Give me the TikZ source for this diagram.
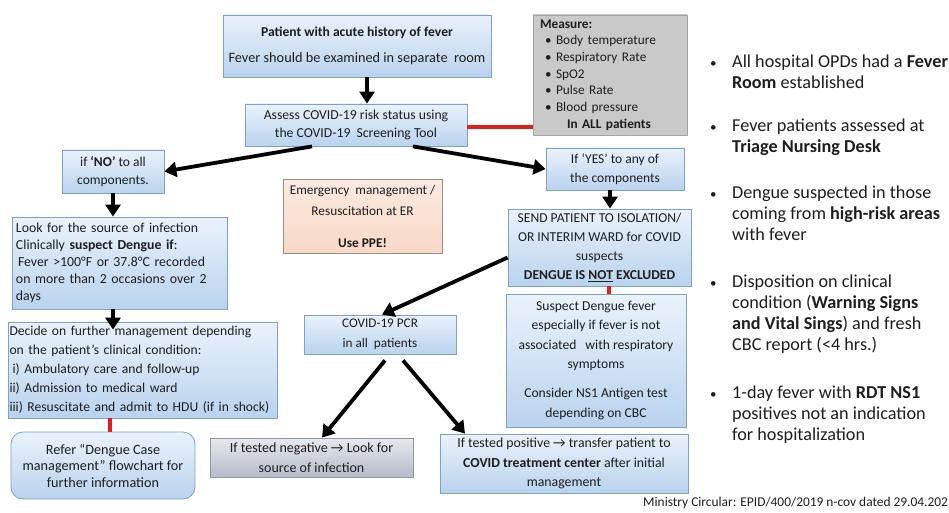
\documentclass[tikz,border=0pt]{standalone}
\usepackage{fontspec}
\setmainfont{Carlito}
\usetikzlibrary{arrows.meta}
\definecolor{bluetop}{HTML}{EAF2FB}
\definecolor{bluebot}{HTML}{B9D3EE}
\definecolor{boxedge}{HTML}{7EA1C6}
\definecolor{graytop}{HTML}{E6E9EE}
\definecolor{graybot}{HTML}{B5BCC8}
\definecolor{grayedge}{HTML}{8E97A4}
\definecolor{measfill}{HTML}{C9C9C9}
\definecolor{measedge}{HTML}{A3A3A3}
\definecolor{peachtop}{HTML}{FCEAE0}
\definecolor{peachbot}{HTML}{F7D8C6}
\definecolor{peachedge}{HTML}{9A8C86}
\definecolor{txt}{HTML}{1E1E1E}
\definecolor{redline}{HTML}{E01E1E}
\newcommand{\smallbul}{{\fontsize{13}{13}\selectfont•}}
\tikzset{
  bluebox/.style={draw=boxedge, line width=0.8pt, top color=bluetop, bottom color=bluebot, text=txt, inner sep=0pt, align=center, font=\fontsize{14}{19}\selectfont},
  graybox/.style={bluebox, draw=grayedge, top color=graytop, bottom color=graybot},
  measbox/.style={bluebox, draw=measedge, fill=measfill, top color=measfill, bottom color=measfill},
  peachbox/.style={bluebox, draw=peachedge, top color=peachtop, bottom color=peachbot},
  fat/.style={line width=3.8pt, draw=black, -{Triangle[length=12pt,width=15pt]}},
  redcon/.style={line width=3.5pt, draw=redline},
  bullettext/.style={anchor=north west, inner sep=0pt, text=txt, font=\fontsize{18.2}{21}\selectfont},
}
\begin{document}
\begin{tikzpicture}[x=1pt,y=-1pt]
\useasboundingbox[fill=white] (0,0) rectangle (949,513);

% boxes
\node[bluebox, minimum width=268pt, minimum height=62pt] (pat) at (357,46)
  {\rule{0pt}{4pt}{\fontsize{13.6}{15}\selectfont\bfseries Patient with acute history of fever}\\[7pt]{\fontsize{14.3}{15}\selectfont Fever should be examined in separate~~room}};
\node[measbox, minimum width=154pt, minimum height=120pt, align=left, text width=146pt, font=\fontsize{13.3}{16.7}\selectfont] (meas) at (610,75)
  {\hspace*{3pt}\textbf{Measure:}\\
   \hspace*{8pt}\makebox[11pt][l]{\smallbul}Body temperature\\
   \hspace*{8pt}\makebox[11pt][l]{\smallbul}Respiratory Rate\\
   \hspace*{8pt}\makebox[11pt][l]{\smallbul}SpO2\\
   \hspace*{8pt}\makebox[11pt][l]{\smallbul}Pulse Rate\\
   \hspace*{8pt}\makebox[11pt][l]{\smallbul}Blood pressure\\
   \hspace*{30pt}\textbf{In ALL patients}};
\node[bluebox, minimum width=222pt, minimum height=42pt, font=\fontsize{13.7}{18}\selectfont] (assess) at (356,125)
  {Assess COVID-19 risk status using\\the COVID-19~~Screening Tool};
\node[bluebox, minimum width=102pt, minimum height=43pt, font=\fontsize{13.5}{18}\selectfont] (no) at (113,171.5)
  {if \textbf{‘NO’} to all\\components.};
\node[bluebox, minimum width=138pt, minimum height=42pt, font=\fontsize{13.5}{19}\selectfont] (yes) at (615,169)
  {If ‘YES’ to any of\\the components};
\node[peachbox, minimum width=159pt, minimum height=74pt, font=\fontsize{13.3}{21}\selectfont] (emerg) at (362.5,216)
  {Emergency~~management /\\Resuscitation at ER\\[11pt]\textbf{Use PPE!}};
\node[bluebox, minimum width=215pt, minimum height=92pt, align=left, text width=207pt, font=\fontsize{13.8}{17}\selectfont] (look) at (119.5,263)
  {Look for the source of infection\\
   Clinically \textbf{suspect Dengue if}:\\
   \hspace*{2pt}Fever >100°F or 37.8°C recorded\\
   on more than 2 occasions over 2\\
   days};
\node[bluebox, minimum width=269pt, minimum height=96pt, align=left, text width=266pt, font=\fontsize{13.6}{19}\selectfont] (decide) at (142.5,370)
  {Decide on further management depending\\
   on the patient’s clinical condition:\\
   \hspace*{3pt}i) Ambulatory care and follow-up\\
   ii) Admission to medical ward\\
   iii) Resuscitate and admit to HDU (if in shock)};
\node[bluebox, minimum width=184pt, minimum height=67pt, rounded corners=12pt, font=\fontsize{14.2}{16.5}\selectfont] (refer) at (103,465.5)
  {Refer “Dengue Case\\management” flowchart for\\further information};
\node[graybox, minimum width=203pt, minimum height=39pt, font=\fontsize{14}{20}\selectfont] (neg) at (311.5,457.5)
  {If tested negative → Look for\\source of infection};
\node[bluebox, minimum width=152pt, minimum height=39pt, font=\fontsize{13.2}{20}\selectfont] (pcr) at (380,334.5)
  {COVID-19 PCR\\in all~~patients};
\node[bluebox, minimum width=248pt, minimum height=59pt, font=\fontsize{13.8}{19.5}\selectfont] (pos) at (564,463.5)
  {If tested positive → transfer patient to\\\textbf{COVID treatment center} after initial\\management};
\node[bluebox, minimum width=183pt, minimum height=77pt, font=\fontsize{13.6}{19}\selectfont] (send) at (599.5,247.5)
  {SEND PATIENT TO ISOLATION/\\OR INTERIM WARD for COVID\\suspects\\\textbf{DENGUE IS \underline{NOT} EXCLUDED}};
\node[bluebox, minimum width=180pt, minimum height=133pt, font=\fontsize{13.6}{19.5}\selectfont] (susp) at (596,360.5)
  {Suspect Dengue fever\\especially if fever is not\\associated\hspace{9pt}with respiratory\\symptoms\\[9.5pt]Consider NS1 Antigen test\\depending on CBC};

% connectors
\draw[fat] ([xshift=10pt]pat.south) -- ([xshift=11pt]assess.north);
\draw[redcon] ([yshift=-2pt]assess.east) -- ([yshift=-2pt]assess.east -| meas.west);
\draw[fat] ([xshift=-44pt]assess.south) -- (no.east);
\draw[fat] ([xshift=57pt]assess.south) -- (yes.west);
\draw[fat] (no.south) -- (no.south |- look.north);
\draw[fat] ([xshift=-6.5pt]look.south) -- ([xshift=-29.5pt,yshift=-8pt]decide.north);
\draw[redcon] ([xshift=-32.5pt]decide.south) -- ([xshift=7pt]refer.north);
\draw[fat] ([xshift=-5pt]yes.south) -- ([xshift=10.5pt]send.north);
\draw[redcon] ([xshift=9.5pt]send.south) -- ([xshift=13pt]susp.north);
\draw[fat] ([yshift=-10pt]send.west) -- ([xshift=2pt]pcr.north);
\draw[fat] ([xshift=5pt,yshift=-6pt]pcr.south) -- ([xshift=10.5pt]neg.north);
\draw[fat] ([xshift=23pt,yshift=-6pt]pcr.south) -- ([xshift=-99pt]pos.north);

% right panel
\node[bullettext] (b1) at (710,52.3) {\begin{tabular}{@{}p{22pt}@{}l@{}}\smallbul&All hospital OPDs had a \textbf{Fever}\\&\textbf{Room} established\end{tabular}};
\node[bullettext] (b2) at (710,116.8) {\begin{tabular}{@{}p{22pt}@{}l@{}}\smallbul&Fever patients assessed at\\&\textbf{Triage Nursing Desk}\end{tabular}};
\node[bullettext] (b3) at (710,183.3) {\begin{tabular}{@{}p{22pt}@{}l@{}}\smallbul&Dengue suspected in those\\&coming from \textbf{high-risk areas}\\&with fever\end{tabular}};
\node[bullettext] (b4) at (710,272.3) {\begin{tabular}{@{}p{22pt}@{}l@{}}\smallbul&Disposition on clinical\\&condition (\textbf{Warning Signs}\\&\textbf{and Vital Sings}) and fresh\\&CBC report (<4 hrs.)\end{tabular}};
\node[bullettext] (b5) at (710,383.3) {\begin{tabular}{@{}p{22pt}@{}l@{}}\smallbul&1-day fever with \textbf{RDT NS1}\\&positives not an indication\\&for hospitalization\end{tabular}};

\node[anchor=base west, inner sep=0pt, text=txt, font=\fontsize{13.4}{15}\selectfont] (foot) at (643,506) {Ministry Circular: EPID/400/2019 n-cov dated 29.04.202};
\end{tikzpicture}
\end{document}
